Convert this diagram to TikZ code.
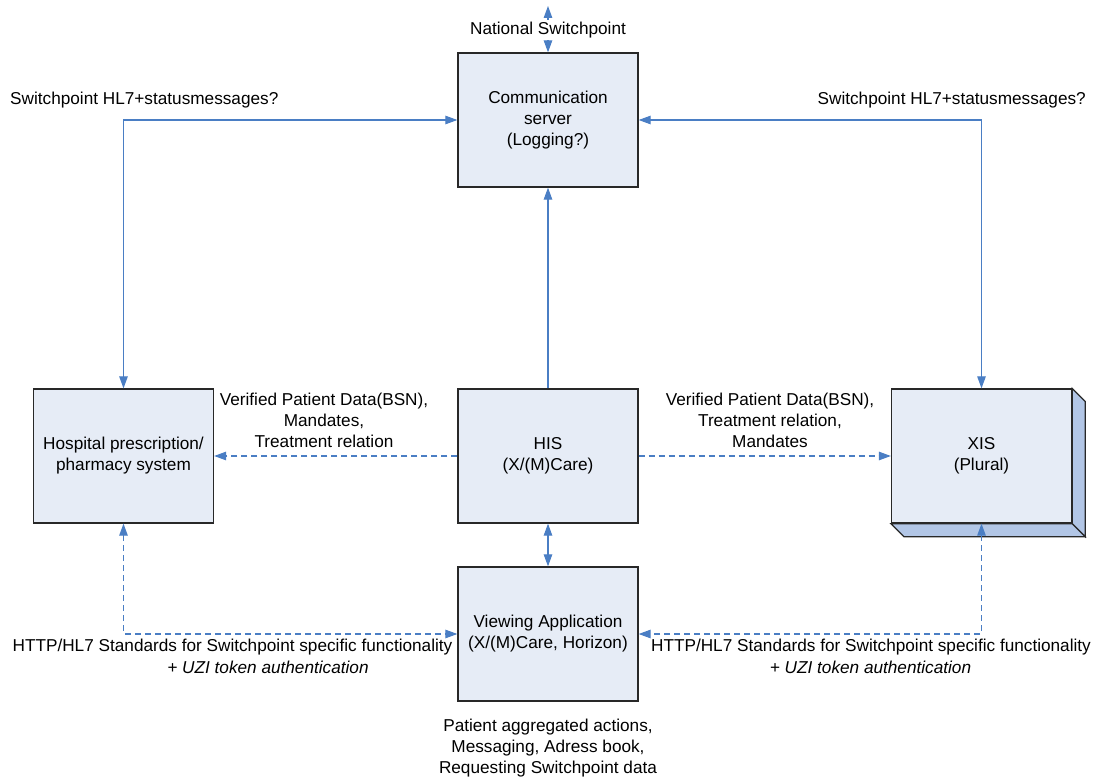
\documentclass[tikz,border=0pt]{standalone}
\usepackage{fontspec}
\setmainfont{Liberation Sans}
\usetikzlibrary{arrows.meta,calc}
\definecolor{linkblue}{RGB}{74,126,196}
\definecolor{boxfill}{RGB}{230,236,246}
\definecolor{sidefill}{RGB}{178,198,230}
\definecolor{edgegray}{RGB}{40,40,40}
\begin{document}
\begin{tikzpicture}[x=1pt,y=-1pt,
  every node/.style={font=\fontsize{17.2}{21}\selectfont},
  sys/.style={draw=edgegray, line width=1.3pt, fill=boxfill,
    minimum width=180pt, minimum height=134pt, align=center, inner sep=0pt},
  lbl/.style={align=center, inner sep=0pt},
  link/.style={draw=linkblue, line width=1.1pt},
  dashlink/.style={link, dash pattern=on 6pt off 4pt},
  >={Triangle[length=12pt,width=8.5pt]}
]
\useasboundingbox (0,0) rectangle (1096,778);

% systems
\node[sys] (comm) at (548,120) {Communication\\server\\(Logging?)};
\node[sys] (hosp) at (123.5,456) {Hospital prescription/\\pharmacy system};
\node[sys] (his)  at (548,456) {HIS\\(X/(M)Care)};
\node[sys] (xis)  at (981.5,456) {XIS\\(Plural)};
\node[sys] (view) at (548,634) {Viewing Application\\(X/(M)Care, Horizon)};

% raised faces of the XIS block
\draw[draw=edgegray, line width=1.3pt, fill=sidefill]
  (xis.north east) -- ++(13,13) -- ($(xis.south east)+(13,13)$) -- (xis.south east) -- cycle;
\draw[draw=edgegray, line width=1.3pt, fill=sidefill]
  (xis.south west) -- ++(13,13) -- ($(xis.south east)+(13,13)$) -- (xis.south east) -- cycle;

% connectors
\coordinate (nsend) at (548,6);
\draw[link,<->] (nsend) -- (comm.north);
\node[lbl, fill=white, inner sep=2pt] (nslabel) at (548,30) {National Switchpoint};

\draw[link,<->] (hosp.north) |- (comm.west);
\draw[link,<->] (xis.north) |- (comm.east);
\draw[link,->] (his.north) -- (comm.south);
\draw[dashlink,->] (his.west) -- (hosp.east);
\draw[dashlink,->] (his.east) -- (xis.west);
\draw[link,<->] (his.south) -- (view.north);
\draw[dashlink,<->] (hosp.south) |- (view.west);
\draw[dashlink,<->] (xis.south) |- (view.east);

% labels
\node[lbl, anchor=west] (swl) at (10,100) {Switchpoint HL7+statusmessages?};
\node[lbl, anchor=east] (swr) at (1086,100) {Switchpoint HL7+statusmessages?};
\node[lbl] (vpl) at (324,420) {Verified Patient Data(BSN),\\Mandates,\\Treatment relation};
\node[lbl] (vpr) at (770,420) {Verified Patient Data(BSN),\\Treatment relation,\\Mandates};
\node[lbl] (httpl) at (232.5,647) {HTTP/HL7 Standards for Switchpoint specific functionality};
\node[lbl] (uzil) at (268,667) {\itshape + UZI token authentication};
\node[lbl] (httpr) at (871,647) {HTTP/HL7 Standards for Switchpoint specific functionality};
\node[lbl] (uzir) at (870.5,667) {\itshape + UZI token authentication};
\node[lbl] (actions) at (548,748) {Patient aggregated actions,\\Messaging, Adress book,\\Requesting Switchpoint data};
\end{tikzpicture}
\end{document}
